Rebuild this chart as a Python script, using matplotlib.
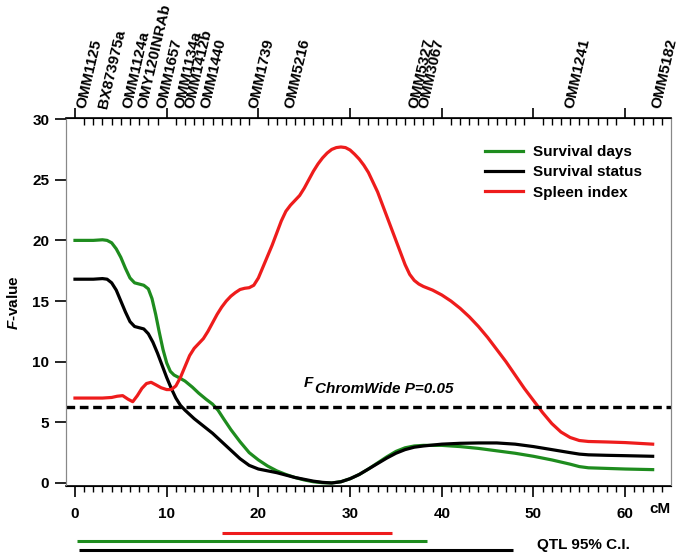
import numpy as np
import matplotlib
matplotlib.use("Agg")
from matplotlib import pyplot as plt
import matplotlib.transforms as mtransforms

plt.rcParams['font.family'] = ['Liberation Sans', 'DejaVu Sans']
plt.rcParams['font.weight'] = 'bold'
plt.rcParams['mathtext.fontset'] = 'custom'
plt.rcParams['mathtext.it'] = 'Liberation Sans:italic:bold'
plt.rcParams['mathtext.rm'] = 'Liberation Sans:bold'

# survival days (green)
days_cm = [0, 1, 2, 3, 3.5, 4, 4.5, 5, 5.5, 6, 6.5, 7, 7.5, 8, 8.4, 8.8, 9.2, 9.6, 10, 10.4,
           10.8, 11.3, 12, 12.8, 13.5, 14.3, 15, 15.6, 16.2, 17, 18, 19, 20, 21, 22, 23, 24,
           25, 26, 27, 28, 29, 30, 31, 32, 33, 34, 35, 36, 37, 38, 40, 42, 44, 46, 48, 50, 52,
           54, 55, 56, 58, 60, 63]
days_f = [20.0, 20.0, 20.0, 20.05, 20.0, 19.8, 19.3, 18.6, 17.7, 16.9, 16.5, 16.4, 16.3, 16.0,
          15.2, 13.9, 12.4, 11.0, 9.9, 9.2, 8.9, 8.7, 8.4, 7.9, 7.4, 6.9, 6.5, 6.0, 5.3, 4.4,
          3.4, 2.5, 1.9, 1.4, 1.0, 0.7, 0.45, 0.25, 0.1, 0.02, 0.0, 0.1, 0.35, 0.7, 1.15, 1.65,
          2.15, 2.6, 2.9, 3.05, 3.1, 3.1, 3.0, 2.85, 2.65, 2.45, 2.2, 1.9, 1.55, 1.35, 1.25,
          1.2, 1.15, 1.1]

# survival status (black)
status_cm = [0, 1, 2, 3, 3.5, 4, 4.5, 5, 5.5, 6, 6.5, 7, 7.5, 8, 8.5, 9, 9.5, 10, 10.5, 11,
             11.5, 12, 13, 14, 15, 16, 17, 18, 19, 20, 21, 22, 23, 24, 25, 26, 27, 28, 29, 30,
             31, 32, 33, 34, 35, 36, 37, 38, 40, 42, 44, 46, 48, 50, 52, 54, 55, 56, 58, 60, 63]
status_f = [16.8, 16.8, 16.8, 16.85, 16.8, 16.5, 15.9, 15.0, 14.1, 13.3, 12.9, 12.8, 12.7,
            12.3, 11.6, 10.7, 9.7, 8.7, 7.8, 7.0, 6.4, 6.0, 5.3, 4.7, 4.1, 3.4, 2.7, 2.0, 1.45,
            1.15, 1.0, 0.85, 0.65, 0.45, 0.3, 0.15, 0.05, 0.0, 0.1, 0.35, 0.7, 1.15, 1.6, 2.05,
            2.45, 2.75, 2.95, 3.05, 3.2, 3.27, 3.3, 3.3, 3.2, 3.0, 2.75, 2.5, 2.38, 2.32, 2.28,
            2.25, 2.2]

# spleen index (red)
spleen_cm = [0, 1, 2, 3, 4, 4.6, 5.2, 5.8, 6.3, 6.8, 7.3, 7.8, 8.3, 8.8, 9.4, 10, 10.5, 11,
             11.5, 12, 12.5, 13, 13.5, 14, 14.5, 15, 15.5, 16, 16.5, 17, 17.5, 18, 18.5, 19,
             19.5, 20, 20.5, 21, 21.5, 22, 22.5, 23, 23.5, 24, 24.5, 25, 25.5, 26, 26.5, 27,
             27.5, 28, 28.5, 29, 29.5, 30, 30.5, 31, 31.5, 32, 32.5, 33, 33.5, 34, 34.5, 35,
             35.5, 36, 36.5, 37, 37.5, 38, 39, 40, 41, 42, 43, 44, 45, 46, 47, 48, 49, 50, 51,
             52, 53, 54, 55, 56, 58, 60, 63]
spleen_f = [7.0, 7.0, 7.0, 7.0, 7.05, 7.15, 7.2, 6.9, 6.7, 7.2, 7.8, 8.2, 8.3, 8.1, 7.85, 7.7,
            7.7, 8.0, 8.7, 9.6, 10.5, 11.1, 11.5, 11.9, 12.5, 13.2, 13.9, 14.5, 15.0, 15.4,
            15.7, 15.95, 16.05, 16.1, 16.3, 16.9, 17.8, 18.7, 19.6, 20.6, 21.6, 22.4, 22.9,
            23.3, 23.7, 24.3, 25.0, 25.7, 26.3, 26.8, 27.2, 27.5, 27.65, 27.7, 27.65, 27.45,
            27.1, 26.7, 26.2, 25.6, 24.8, 24.0, 23.0, 22.0, 21.0, 20.0, 19.0, 18.0, 17.2, 16.7,
            16.4, 16.2, 15.9, 15.5, 15.0, 14.4, 13.7, 12.9, 12.0, 11.0, 10.0, 8.9, 7.8, 6.8,
            5.8, 4.9, 4.2, 3.75, 3.5, 3.42, 3.38, 3.33, 3.2]

threshold = 6.3

# QTL 95% confidence intervals (cM)
ci_spleen = [16.0, 34.6]
ci_days = [0.2, 38.4]
ci_status = [0.4, 47.8]

markers = ['OMM1125', 'BX873975a', 'OMM1124a', 'OMY120INRAb', 'OMM1657', 'OMM1134a',
           'OMM1412b', 'OMM1440', 'OMM1739', 'OMM5216', 'OMM5327', 'OMM3067',
           'OMM1241', 'OMM5182']
marker_cm = [0, 2.4, 5.05, 6.65, 8.7, 10.75, 11.85, 13.5, 18.75, 22.75, 36.2, 37.3, 53.3, 62.75]

green = '#1e8c1e'
red = '#ee1c1c'

fig = plt.figure(figsize=(6.85, 5.56), dpi=100)
ax = fig.add_axes([66/685, 70/556, 605/685, 368/556])

lw = 2.3
ax.plot(days_cm, days_f, color=green, lw=lw, label='Survival days', solid_joinstyle='round')
ax.plot(status_cm, status_f, color='black', lw=lw, label='Survival status', solid_joinstyle='round')
ax.plot(spleen_cm, spleen_f, color=red, lw=lw, label='Spleen index', solid_joinstyle='round')
ax.axhline(threshold, color='black', lw=2.4, dashes=(2.6, 1.4))

ax.set_xlim(-0.98, 65.0)
ax.set_ylim(-0.25, 30.09)
ax.set_yticks(range(0, 31, 5))
ax.set_xticks(range(0, 61, 10))
ax.set_xticks(range(1, 65), minor=True)
ax.tick_params(axis='y', direction='out', length=8, width=1.2, pad=4, labelsize=11)
ax.tick_params(axis='x', which='major', direction='out', length=8, width=1.2, pad=7, labelsize=11)
ax.tick_params(axis='x', which='minor', direction='out', length=4, width=1)
ax.spines['left'].set_color('#888888')
ax.spines['right'].set_color('#888888')
ax.spines['bottom'].set_linewidth(1.2)

ax2 = ax.twiny()
ax2.set_xlim(ax.get_xlim())
ax2.set_xticks(range(0, 61, 10))
ax2.set_xticklabels([])
ax2.set_xticks(range(1, 65), minor=True)
ax2.tick_params(axis='x', which='major', direction='out', length=7, width=1.2)
ax2.tick_params(axis='x', which='minor', direction='in', length=5, width=1)
ax2.spines['left'].set_color('#888888')
ax2.spines['right'].set_color('#888888')
ax2.spines['top'].set_linewidth(1.2)

# marker names along the top
trans = mtransforms.blended_transform_factory(ax.transData, ax.transAxes)
for name, pos in zip(markers, marker_cm):
    ax.annotate(name, xy=(pos, 1.0), xycoords=trans, xytext=(4.5, 6.8),
                textcoords='offset points', rotation=77, rotation_mode='anchor',
                ha='left', va='center', fontsize=11, fontweight='bold',
                annotation_clip=False)

ax.legend(loc='upper left', bbox_to_anchor=(0.6926, 0.927), frameon=False, fontsize=11,
          handlelength=2.5, handletextpad=0.65, labelspacing=0.42, borderpad=0,
          borderaxespad=0)

ax.text(24.9, 7.9, 'F', fontsize=11, fontweight='bold', style='italic')
ax.text(26.2, 7.4, 'ChromWide P=0.05', fontsize=11, fontweight='bold', style='italic')

# confidence interval bars under the axis
ax.plot(ci_spleen, [-4.12, -4.12], color=red, lw=2.2, clip_on=False, solid_capstyle='butt')
ax.plot(ci_days, [-4.78, -4.78], color=green, lw=2.2, clip_on=False, solid_capstyle='butt')
ax.plot(ci_status, [-5.52, -5.52], color='black', lw=2.2, clip_on=False, solid_capstyle='butt')

fig.text(583/685, 1 - 545/556, 'QTL 95% C.I.', ha='center', va='center', fontsize=11)
fig.text(660/685, 1 - 509/556, 'cM', ha='center', va='center', fontsize=11)
fig.text(14/685, 1 - 303/556, r'$F$-value', ha='center', va='center', rotation=90, fontsize=11)

fig.savefig('out.png', dpi=100)
